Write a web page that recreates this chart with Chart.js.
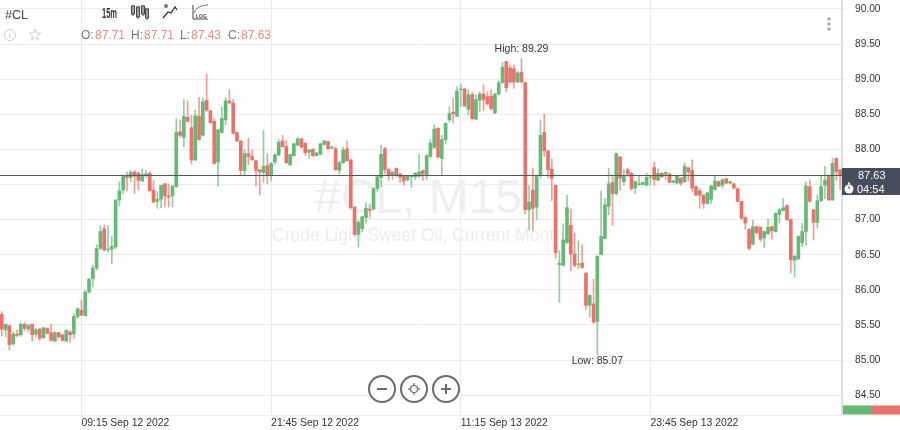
<!DOCTYPE html>
<html>
<head>
<meta charset="utf-8">
<title>#CL M15</title>
<style>
  html, body { margin: 0; padding: 0; background: #fff; }
  canvas { display: block; }
</style>
<script src="https://cdn.jsdelivr.net/npm/chart.js@4/dist/chart.umd.min.js"></script>
</head>
<body>
<canvas id="chart" width="900" height="430"></canvas>
<script>
// 15 minute candles
const opens = [
  85.65,85.43,85.49,85.23,85.37,85.36,85.51,85.44,85.51,85.37,
  85.44,85.32,85.45,85.39,85.27,85.39,85.36,85.27,85.40,85.37,
  85.62,85.71,85.63,85.97,86.16,86.31,86.59,86.87,86.57,86.58,
  86.61,87.28,87.42,87.62,87.60,87.68,87.66,87.55,87.63,87.66,
  87.42,87.26,87.29,87.51,87.34,87.34,87.47,88.25,88.17,88.46,
  88.31,87.85,88.47,88.20,88.70,88.55,88.40,87.82,88.24,88.42,
  88.69,88.66,88.24,88.12,87.70,87.94,87.90,87.84,87.71,87.67,
  87.77,87.63,87.82,87.92,88.12,88.04,87.78,87.91,88.06,88.15,
  88.09,87.96,88.00,87.91,87.93,88.07,88.11,88.02,88.01,87.70,
  87.81,88.01,87.85,87.18,86.79,86.87,87.03,87.15,87.15,87.44,
  87.60,88.01,87.71,87.63,87.73,87.65,87.62,87.57,87.61,87.61,
  87.62,87.70,87.64,87.90,88.03,88.30,87.87,88.14,88.42,88.53,
  88.47,88.85,88.86,88.57,88.78,88.43,88.70,88.79,88.75,88.76,
  88.52,88.79,88.95,89.25,89.16,89.15,88.96,89.10,88.95,87.14,
  87.42,87.18,87.63,88.24,87.98,87.72,87.49,86.36,86.35,86.67,
  86.92,86.51,86.36,86.38,86.24,85.78,85.80,85.55,86.50,86.73,
  87.19,87.53,87.37,87.89,87.54,87.71,87.66,87.45,87.50,87.50,
  87.49,87.60,87.74,87.56,87.66,87.65,87.65,87.53,87.52,87.59,
  87.54,87.74,87.70,87.47,87.41,87.35,87.23,87.29,87.43,87.54,
  87.49,87.58,87.52,87.51,87.44,87.26,87.03,86.86,86.65,86.90,
  86.89,86.74,86.80,86.90,86.83,87.07,87.13,87.20,87.00,86.42,
  86.44,86.67,86.83,87.47,87.14,86.96,87.27,87.49,87.62,87.28,
  87.87,87.71
];
const highs = [
  85.69,85.51,85.49,85.40,85.43,85.53,85.53,85.51,85.51,85.45,
  85.45,85.47,85.46,85.51,85.40,85.40,85.37,85.43,85.42,85.66,
  85.74,85.85,85.99,86.16,86.35,86.64,86.91,86.92,86.92,86.76,
  87.28,87.54,87.63,87.68,87.70,87.70,87.68,87.72,87.70,87.68,
  87.56,87.40,87.49,87.52,87.51,87.49,88.44,88.42,88.71,88.69,
  88.49,88.56,88.74,88.73,89.07,88.56,88.44,88.29,88.61,88.74,
  88.85,88.71,88.25,88.13,88.00,88.16,87.99,87.85,87.71,88.27,
  87.94,87.81,87.94,88.14,88.20,88.13,87.93,88.09,88.17,88.16,
  88.09,88.00,88.01,87.96,88.09,88.13,88.12,88.05,88.03,87.83,
  88.03,88.12,87.86,87.18,86.99,87.05,87.24,87.21,87.46,87.62,
  88.06,88.03,87.73,87.68,87.74,87.66,87.63,87.63,87.63,87.67,
  87.93,87.71,87.93,88.14,88.35,88.31,88.20,88.38,88.61,88.73,
  88.89,88.93,88.87,88.85,88.81,88.77,88.82,88.92,88.82,88.85,
  88.80,88.98,89.24,89.26,89.20,89.20,89.11,89.29,88.96,87.49,
  87.73,87.63,88.42,88.50,87.98,87.86,87.49,86.56,86.94,87.35,
  87.15,86.81,86.70,86.64,86.24,85.93,86.15,86.48,87.41,87.30,
  87.73,87.62,87.95,87.90,87.72,87.73,87.67,87.55,87.63,87.53,
  87.66,87.62,87.82,87.72,87.67,87.68,87.66,87.56,87.63,87.60,
  87.81,87.74,87.85,87.48,87.45,87.35,87.39,87.49,87.62,87.55,
  87.58,87.59,87.55,87.52,87.45,87.26,87.04,86.87,86.99,86.91,
  86.90,86.84,87.01,86.91,87.10,87.16,87.30,87.21,87.01,86.49,
  86.77,86.95,87.54,87.57,87.15,87.35,87.62,87.76,87.63,87.87,
  87.88,87.71
];
const lows = [
  85.34,85.33,85.14,85.21,85.33,85.34,85.42,85.40,85.27,85.33,
  85.28,85.30,85.37,85.27,85.26,85.31,85.27,85.26,85.25,85.31,
  85.59,85.63,85.63,85.95,86.04,86.28,86.57,86.55,86.54,86.37,
  86.59,87.19,87.37,87.41,87.54,87.37,87.42,87.54,87.60,87.41,
  87.24,87.16,87.17,87.18,87.18,87.18,87.46,88.17,88.04,88.39,
  87.79,87.84,88.13,88.19,88.54,88.37,87.79,87.48,88.23,88.35,
  88.66,88.22,88.11,87.63,87.62,87.78,87.85,87.48,87.35,87.53,
  87.51,87.55,87.79,87.91,88.03,87.80,87.77,87.90,88.05,88.02,
  87.91,87.87,87.90,87.91,87.92,88.06,88.00,88.01,87.70,87.65,
  87.80,87.83,87.16,86.77,86.61,86.83,86.95,87.02,87.14,87.40,
  87.47,87.65,87.56,87.57,87.61,87.53,87.49,87.55,87.46,87.57,
  87.60,87.56,87.57,87.89,88.01,87.88,87.63,88.08,88.39,88.38,
  88.47,88.61,88.61,88.49,88.42,88.42,88.54,88.55,88.63,88.56,
  88.51,88.77,88.94,88.82,88.95,88.87,88.95,88.95,87.08,86.85,
  86.84,87.00,87.59,87.90,87.59,87.27,86.45,85.82,86.34,86.66,
  86.27,86.33,86.30,86.30,85.72,85.61,85.52,85.07,86.50,86.73,
  87.07,86.92,87.35,87.42,87.49,87.61,87.42,87.37,87.49,87.49,
  87.48,87.49,87.49,87.55,87.60,87.57,87.52,87.52,87.51,87.49,
  87.53,87.55,87.40,87.34,87.16,87.16,87.22,87.23,87.42,87.47,
  87.45,87.51,87.51,87.43,87.25,87.00,86.86,86.56,86.64,86.80,
  86.69,86.60,86.79,86.72,86.82,86.95,87.12,86.98,86.24,86.18,
  86.43,86.62,86.63,87.25,86.71,86.88,87.26,87.30,87.27,87.27,
  87.56,87.43
];
const closes = [
  85.44,85.51,85.22,85.37,85.35,85.51,85.45,85.49,85.36,85.43,
  85.31,85.46,85.38,85.28,85.39,85.33,85.28,85.42,85.36,85.62,
  85.73,85.64,85.97,86.15,86.31,86.59,86.83,86.57,86.58,86.62,
  87.28,87.41,87.62,87.60,87.67,87.62,87.56,87.64,87.65,87.41,
  87.25,87.29,87.49,87.34,87.32,87.48,88.24,88.20,88.47,88.40,
  87.85,88.48,88.14,88.68,88.56,88.38,87.80,88.28,88.44,88.69,
  88.66,88.23,88.12,87.70,87.94,87.90,87.85,87.70,87.68,87.76,
  87.63,87.80,87.92,88.10,88.04,87.81,87.93,88.08,88.15,88.03,
  87.95,87.99,87.91,87.95,88.08,88.12,88.01,88.03,87.71,87.81,
  87.99,87.84,87.17,86.79,86.96,87.04,87.16,87.13,87.44,87.61,
  87.93,87.71,87.63,87.68,87.63,87.60,87.55,87.62,87.62,87.66,
  87.68,87.65,87.91,88.09,88.29,87.89,88.14,88.37,88.51,88.51,
  88.83,88.86,88.62,88.78,88.44,88.71,88.79,88.71,88.65,88.58,
  88.79,88.95,89.17,88.88,88.96,88.96,89.09,88.96,87.14,87.25,
  87.16,87.63,88.20,87.98,87.71,87.59,86.53,86.38,86.71,87.17,
  86.51,86.35,86.37,86.32,85.78,85.92,85.54,86.48,86.76,87.21,
  87.51,87.37,87.94,87.59,87.62,87.65,87.44,87.54,87.51,87.53,
  87.60,87.61,87.57,87.66,87.61,87.67,87.53,87.55,87.62,87.52,
  87.76,87.68,87.45,87.35,87.35,87.23,87.38,87.48,87.55,87.48,
  87.57,87.52,87.54,87.45,87.26,87.02,86.95,86.59,86.90,86.81,
  86.72,86.83,86.89,86.84,87.09,87.14,87.17,87.00,86.43,86.48,
  86.76,86.83,87.48,87.26,86.96,87.27,87.47,87.56,87.28,87.80,
  87.68,87.63
];

const priceTicks = [84.5, 85, 85.5, 86, 86.5, 87, 87.5, 88, 88.5, 89, 89.5, 90];
const timeTickBars = [21, 71, 121, 171];
const timeTickLabels = ['09:15 Sep 12 2022', '21:45 Sep 12 2022', '11:15 Sep 13 2022', '23:45 Sep 13 2022'];

const lastPrice = 87.63;
const highBar = 137, highPrice = 89.29;
const lowBar = 157, lowPrice = 85.07;

const UP = '#66b876';
const DOWN = '#e9736a';
const UP_WICK = 'rgba(102,184,118,0.7)';
const DOWN_WICK = 'rgba(233,115,106,0.7)';
const FONT = '"Liberation Sans", Arial, sans-serif';

const bars = opens.map((_, i) => i);
const bodyColors = bars.map(i => closes[i] >= opens[i] ? UP : DOWN);
const wickColors = bars.map(i => closes[i] >= opens[i] ? UP_WICK : DOWN_WICK);

function label(ctx, text, x, y, font, color, align, maxWidth) {
  ctx.font = font;
  ctx.fillStyle = color;
  ctx.textAlign = align || 'left';
  ctx.textBaseline = 'alphabetic';
  if (maxWidth) ctx.fillText(text, x, y, maxWidth);
  else ctx.fillText(text, x, y);
}

function line(ctx, pts, color, width) {
  ctx.beginPath();
  pts.forEach((p, i) => i ? ctx.lineTo(p[0], p[1]) : ctx.moveTo(p[0], p[1]));
  ctx.strokeStyle = color;
  ctx.lineWidth = width;
  ctx.stroke();
}

// faint instrument name behind the candles
const watermark = {
  id: 'watermark',
  beforeDatasetsDraw(chart) {
    const ctx = chart.ctx;
    ctx.save();
    label(ctx, '#CL, M15', 418, 213, '48px ' + FONT, '#efefef', 'center');
    label(ctx, 'Crude Light Sweet Oil, Current Month', 418, 241, '17.5px ' + FONT, '#ececec', 'center');
    ctx.restore();
  }
};

function drawToolbar(ctx) {
  label(ctx, '#CL', 5, 19, '12.5px ' + FONT, '#444', 'left');
  label(ctx, '15m', 102, 18, 'bold 14px ' + FONT, '#333', 'left', 15);

  // candle type icon
  [[133, 6, 8], [138, 7, 10], [143, 6, 8], [147, 9, 9]].forEach(c => {
    ctx.strokeStyle = '#444';
    ctx.lineWidth = 1;
    ctx.strokeRect(c[0] - 1.5, c[1], 3, c[2]);
    line(ctx, [[c[0], c[1] - 1], [c[0], c[1] + c[2] + 2]], '#444', 1);
  });

  // indicators icon
  line(ctx, [[163, 18], [168, 12], [171, 13], [175, 7], [177, 10]], '#333', 1.3);
  ctx.beginPath();
  ctx.arc(166, 6, 2, 0, Math.PI * 2);
  ctx.fillStyle = '#777';
  ctx.fill();

  // log scale icon
  line(ctx, [[193, 5], [193, 19], [208, 19]], '#444', 1);
  ctx.beginPath();
  ctx.moveTo(194, 13);
  ctx.quadraticCurveTo(197, 5, 208, 5);
  ctx.strokeStyle = '#777';
  ctx.lineWidth = 1;
  ctx.stroke();
  label(ctx, 'LOG', 196, 18, 'bold 5px ' + FONT, '#444', 'left');

  // info and favourite icons
  ctx.beginPath();
  ctx.arc(10, 35, 5.5, 0, Math.PI * 2);
  ctx.strokeStyle = '#ccc';
  ctx.lineWidth = 1;
  ctx.stroke();
  label(ctx, 'i', 10, 38, '8px ' + FONT, '#bbb', 'center');
  const star = [];
  for (let i = 0; i < 10; i++) {
    const r = i % 2 ? 2.6 : 6;
    const a = -Math.PI / 2 + i * Math.PI / 5;
    star.push([35 + r * Math.cos(a), 35 + r * Math.sin(a)]);
  }
  star.push(star[0]);
  line(ctx, star, '#ccc', 1);

  const ohlc = [['O:', 81, '87.71', 95], ['H:', 131, '87.71', 144], ['L:', 180, '87.43', 191], ['C:', 228, '87.63', 241]];
  ohlc.forEach(r => {
    label(ctx, r[0], r[1], 38.5, '12px ' + FONT, '#777', 'left');
    label(ctx, r[2], r[3], 38.5, '12px ' + FONT, '#ef8a82', 'left');
  });

  // menu dots
  [19, 24, 29].forEach(y => {
    ctx.beginPath();
    ctx.arc(829, y, 1.8, 0, Math.PI * 2);
    ctx.fillStyle = '#aaa';
    ctx.fill();
  });
}

function drawPriceTag(ctx, y) {
  ctx.fillStyle = '#474d5c';
  ctx.fillRect(842, y - 7, 58, 27);
  label(ctx, '87.63', 858, y + 4, '11px ' + FONT, '#fff', 'left');
  label(ctx, '04:54', 857, y + 18, '11px ' + FONT, '#fff', 'left');

  // little stopwatch
  ctx.beginPath();
  ctx.arc(849, y + 14, 4.5, 0, Math.PI * 2);
  ctx.fillStyle = '#fff';
  ctx.fill();
  ctx.fillRect(848, y + 7.5, 2, 2);
  line(ctx, [[849, y + 14], [849, y + 11]], '#474d5c', 1);
}

function drawZoomButtons(ctx) {
  const color = '#6b6b6b';
  [382, 414, 446].forEach(x => {
    ctx.beginPath();
    ctx.arc(x, 389, 13, 0, Math.PI * 2);
    ctx.fillStyle = '#fff';
    ctx.fill();
    ctx.strokeStyle = color;
    ctx.lineWidth = 2;
    ctx.stroke();
  });
  line(ctx, [[377, 389], [387, 389]], color, 2);
  line(ctx, [[441, 389], [451, 389]], color, 2);
  line(ctx, [[446, 384], [446, 394]], color, 2);
  ctx.beginPath();
  ctx.arc(414, 389, 3.5, 0, Math.PI * 2);
  ctx.strokeStyle = color;
  ctx.lineWidth = 1.2;
  ctx.stroke();
  line(ctx, [[414, 383], [414, 386]], color, 1.2);
  line(ctx, [[414, 392], [414, 395]], color, 1.2);
  line(ctx, [[408, 389], [411, 389]], color, 1.2);
  line(ctx, [[417, 389], [420, 389]], color, 1.2);
}

const overlay = {
  id: 'overlay',
  afterDraw(chart) {
    const ctx = chart.ctx;
    const xs = chart.scales.x;
    const ys = chart.scales.y;
    const area = chart.chartArea;
    const lastY = Math.round(ys.getPixelForValue(lastPrice)) + 0.5;
    ctx.save();

    line(ctx, [[area.left, lastY], [area.right, lastY]], '#555', 1);
    drawPriceTag(ctx, lastY - 0.5);

    label(ctx, 'High: ' + highPrice.toFixed(2), xs.getPixelForValue(highBar), ys.getPixelForValue(highPrice) - 7, '10.5px ' + FONT, '#333', 'center');
    label(ctx, 'Low: ' + lowPrice.toFixed(2), xs.getPixelForValue(lowBar), ys.getPixelForValue(lowPrice) + 9, '10.5px ' + FONT, '#333', 'center');

    drawToolbar(ctx);
    drawZoomButtons(ctx);

    // buy / sell strip under the price axis
    ctx.fillStyle = UP;
    ctx.fillRect(843, 405.5, 28, 9);
    ctx.fillStyle = DOWN;
    ctx.fillRect(871, 405.5, 29, 9);
    line(ctx, [[842, 415.5], [900, 415.5]], '#eee', 1);

    ctx.restore();
  }
};

function noPadding(scale) {
  scale.paddingTop = 0;
  scale.paddingBottom = 0;
  scale.paddingLeft = 0;
  scale.paddingRight = 0;
}

new Chart(document.getElementById('chart'), {
  type: 'bar',
  data: {
    datasets: [
      {
        label: 'Body',
        data: bars.map(i => ({ x: i, y: [opens[i], closes[i]] })),
        backgroundColor: bodyColors,
        grouped: false,
        barPercentage: 1,
        categoryPercentage: 1,
        maxBarThickness: 3,
        borderSkipped: false
      },
      {
        label: 'Wick',
        data: bars.map(i => ({ x: i, y: [lows[i], highs[i]] })),
        backgroundColor: wickColors,
        grouped: false,
        barPercentage: 1,
        categoryPercentage: 1,
        maxBarThickness: 1,
        borderSkipped: false
      }
    ]
  },
  options: {
    responsive: false,
    animation: false,
    devicePixelRatio: 1,
    layout: { autoPadding: false, padding: 0 },
    plugins: { legend: { display: false }, title: { display: false }, tooltip: { enabled: false } },
    scales: {
      x: {
        type: 'linear',
        offset: false,
        min: -0.475,
        max: 221.5,
        afterFit(scale) { scale.height = 15; noPadding(scale); },
        afterBuildTicks(scale) { scale.ticks = timeTickBars.map(v => ({ value: v })); },
        grid: { offset: false, color: '#e9e9e9', lineWidth: 1, drawTicks: false },
        border: { display: true, color: '#eeeeee' },
        ticks: {
          autoSkip: false,
          maxRotation: 0,
          align: 'start',
          padding: 2,
          color: '#333',
          font: { family: FONT, size: 10.4 },
          callback: v => timeTickLabels[timeTickBars.indexOf(v)]
        }
      },
      y: {
        position: 'right',
        min: 84.217,
        max: 90.128,
        afterFit(scale) { scale.width = 58; noPadding(scale); },
        afterBuildTicks(scale) { scale.ticks = priceTicks.map(v => ({ value: v })); },
        grid: { color: '#ececec', lineWidth: 1, tickLength: 3 },
        border: { display: true, color: '#dddddd', width: 2 },
        ticks: {
          padding: 10,
          color: '#333',
          font: { family: FONT, size: 10.2 },
          callback: v => v.toFixed(2)
        }
      }
    }
  },
  plugins: [watermark, overlay]
});
</script>
</body>
</html>
